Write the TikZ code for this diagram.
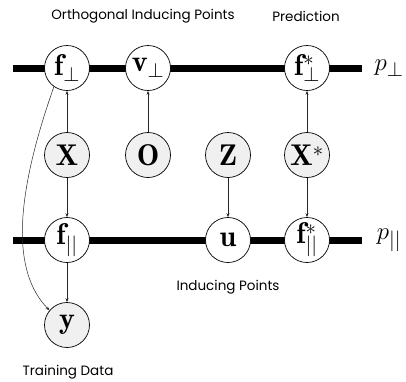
\documentclass[tikz,border=0pt]{standalone}
\usepackage{fontspec}
\setsansfont{Poppins}
\usetikzlibrary{arrows.meta}
\begin{document}
\begin{tikzpicture}[x=1pt,y=-1pt,
  var/.style={circle,draw=black,line width=0.7pt,minimum size=45pt,inner sep=0pt,fill=white,font=\fontsize{30}{34}\selectfont},
  obs/.style={var,fill=gray!12},
  bar/.style={line width=7pt},
  arr/.style={-{Stealth[length=4pt,width=3pt]},line width=0.5pt,draw=black!85},
  lab/.style={font=\sffamily\fontsize{13.5}{16}\selectfont}]
\useasboundingbox (0,0) rectangle (406,381);
\coordinate (tl) at (13,68); \coordinate (tr) at (362,68);
\coordinate (bl) at (13,240); \coordinate (br) at (362,240);
\draw[bar] (tl) -- (tr);
\draw[bar] (bl) -- (br);
\node[var] (fp) at (67,68) {$\mathbf{f}_{\perp}$};
\node[var] (vp) at (148,68) {$\mathbf{v}_{\perp}$};
\node[var] (fsp) at (307,68) {$\mathbf{f}^{*}_{\perp}$};
\node[obs] (X) at (67,155) {$\mathbf{X}$};
\node[obs] (O) at (148,155) {$\mathbf{O}$};
\node[obs] (Z) at (228,155) {$\mathbf{Z}$};
\node[obs] (Xs) at (307,155) {$\mathbf{X}^{*}$};
\node[var] (fl) at (67,240) {$\mathbf{f}_{||}$};
\node[var] (u) at (228,240) {$\mathbf{u}$};
\node[var] (fsl) at (307,240) {$\mathbf{f}^{*}_{||}$};
\node[obs] (y) at (67,325) {$\mathbf{y}$};
\node[font=\fontsize{30}{34}\selectfont] (pp) at (389,68) {$p_{\perp}$};
\node[font=\fontsize{30}{34}\selectfont] (pl) at (389,240) {$p_{||}$};
\node[lab] (l1) at (143,16) {Orthogonal Inducing Points};
\node[lab] (l2) at (306,16) {Prediction};
\node[lab] (l3) at (228,287) {Inducing Points};
\node[lab] (l4) at (68,372) {Training Data};
\draw[arr] (X) -- (fp);
\draw[arr] (O) -- (vp);
\draw[arr] (Xs) -- (fsp);
\draw[arr] (X) -- (fl);
\draw[arr] (Z) -- (u);
\draw[arr] (Xs) -- (fsl);
\draw[arr] (fl) -- (y);
\draw[arr] (fp.235) .. controls (14,200) and (12,272) .. (y.140);
\end{tikzpicture}
\end{document}
